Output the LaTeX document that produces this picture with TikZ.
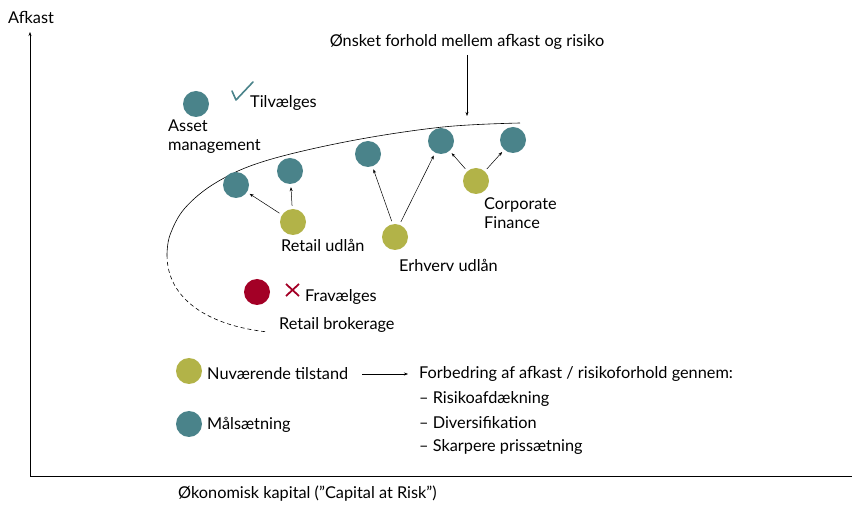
\documentclass[tikz,border=0pt]{standalone}
\usepackage{fontspec}
\setmainfont{Lato}
\usetikzlibrary{arrows.meta}
\definecolor{tealc}{HTML}{4A838A}
\definecolor{olivec}{HTML}{B2B348}
\definecolor{redc}{HTML}{A30026}
\begin{document}
\begin{tikzpicture}[x=1pt,y=-1pt,
  every node/.style={font=\fontsize{16.3}{19}\selectfont, inner sep=0pt},
  goal/.style={circle, fill=tealc, minimum size=26pt},
  cur/.style={circle, fill=olivec, minimum size=26pt},
  drop/.style={circle, fill=redc, minimum size=26pt},
  lbl/.style={anchor=west, align=left},
  arr/.style={-{Stealth[length=4pt,width=3pt]}, line width=0.5pt},
]
\useasboundingbox (0,0) rectangle (852,510);
% axes
\coordinate (o) at (30,476);
\coordinate (ytop) at (30,32);
\coordinate (xend) at (852,476);
\draw[arr] (o) -- (ytop);
\draw[line width=0.9pt] (o) -- (xend);
\node[lbl] (yl) at (8,17) {Afkast};
\node[lbl] (xl) at (178,494) {Økonomisk kapital (”Capital at Risk”)};
% frontier
\draw[line width=0.6pt] plot[smooth, tension=0.6] coordinates {(520,123) (443,127) (350,141) (265,161) (217,182) (185,208) (170,235) (167,255)};
\draw[line width=0.6pt, dash pattern=on 4pt off 3pt] (167,255) .. controls (167,300) and (210,326) .. (268,332);
% title + arrow
\node (title) at (467,42) {Ønsket forhold mellem afkast og risiko};
\coordinate (tgt) at (467,116);
\draw[arr, shorten <=5pt] (title.south) -- (tgt);
% top-left legend
\node[goal] (am) at (196,104) {};
\node[lbl] (amt) at (168,137) {Asset\\management};
\draw[tealc, line width=1.6pt, line cap=round, line join=round] (232,91) -- (236,100) -- (253,82);
\node[lbl] (tv) at (250,103) {Tilvælges};
% goal circles
\node[goal] (g1) at (236,185) {};
\node[goal] (g2) at (290,171) {};
\node[goal] (g3) at (368,154) {};
\node[goal] (g4) at (441,141) {};
\node[goal] (g5) at (513,140) {};
% current circles
\node[cur] (c1) at (293,222) {};
\node[cur] (c2) at (395,237) {};
\node[cur] (c3) at (476,181) {};
\node[lbl] (c1t) at (281,245) {Retail udlån};
\node[lbl] (c2t) at (399,265) {Erhverv udlån};
\node[lbl] (c3t) at (484,213) {Corporate\\Finance};
% arrows
\draw[arr, shorten <=3pt, shorten >=3pt] (c1) -- (g1);
\draw[arr, shorten <=3pt, shorten >=3pt] (c1) -- (g2);
\draw[arr, shorten <=3pt, shorten >=3pt] (c2.100) -- (g3);
\draw[arr, shorten <=3pt, shorten >=3pt] (c2.70) -- (g4);
\draw[arr, shorten <=3pt, shorten >=3pt] (c3) -- (g4);
\draw[arr, shorten <=3pt, shorten >=3pt] (c3) -- (g5);
% dropped
\node[drop] (rb) at (257,292) {};
\draw[redc, line width=1.8pt] (286,284) -- (299,296) (299,284) -- (286,296);
\node[lbl] (fv) at (305,297) {Fravælges};
\node[lbl] (rbt) at (279,325) {Retail brokerage};
% bottom legend
\node[cur] (lc) at (189,371) {};
\node[lbl] (lct) at (207,374) {Nuværende tilstand};
\node[goal] (lg) at (189,424) {};
\node[lbl] (lgt) at (207,425) {Målsætning};
\node[lbl] (fb) at (419,374) {Forbedring af afkast / risikoforhold gennem:};
\coordinate (a1) at (362,374);
\coordinate (a2) at (408,374);
\draw[arr] (a1) -- (a2);
\node[lbl] (r1) at (419,399) {– Risikoafdækning};
\node[lbl] (r2) at (419,423) {– Diversifikation};
\node[lbl] (r3) at (419,447) {– Skarpere prissætning};
\end{tikzpicture}
\end{document}
